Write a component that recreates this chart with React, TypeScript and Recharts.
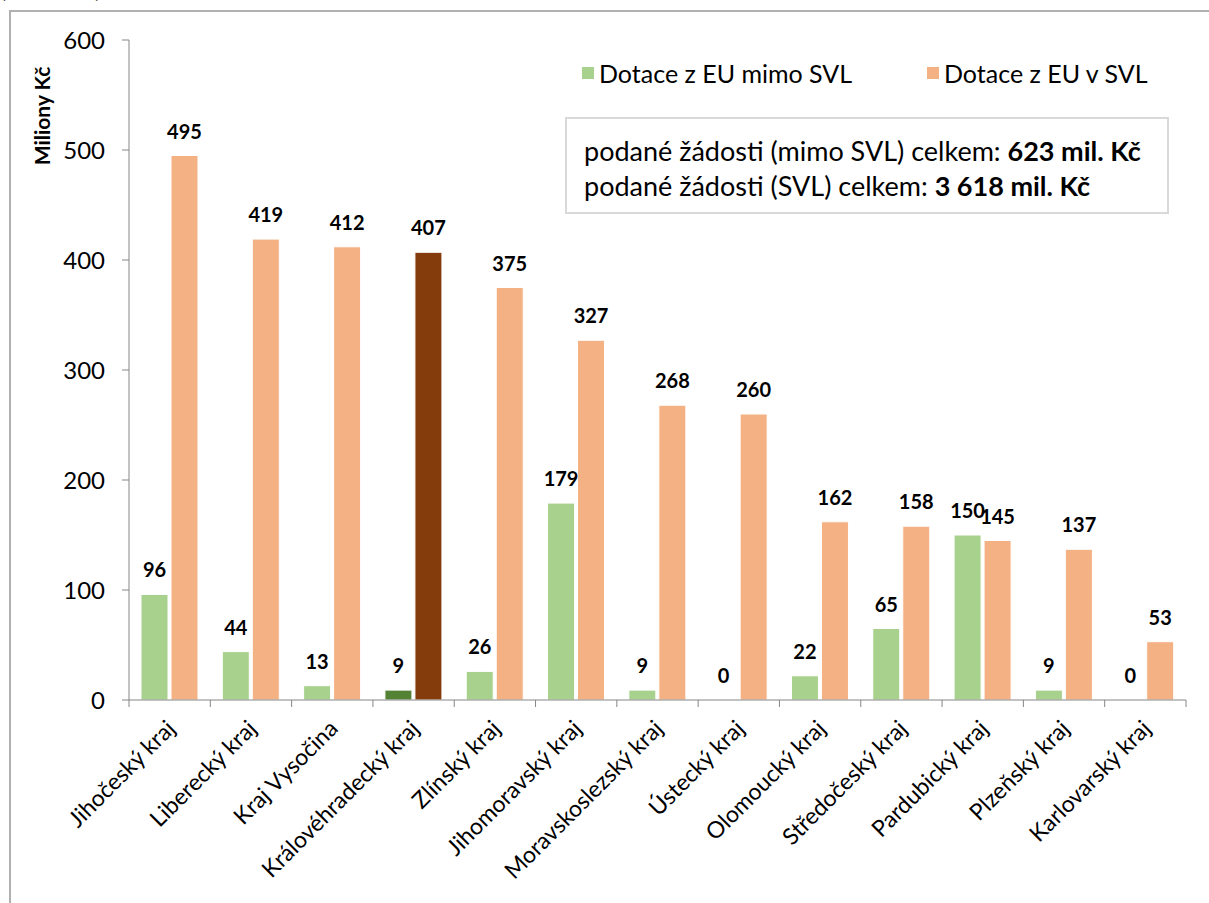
import { BarChart, Bar, Cell, XAxis, YAxis, LabelList } from 'recharts';

const categories = [
  'Jihočeský kraj',
  'Liberecký kraj',
  'Kraj Vysočina',
  'Královéhradecký kraj',
  'Zlínský kraj',
  'Jihomoravský kraj',
  'Moravskoslezský kraj',
  'Ústecký kraj',
  'Olomoucký kraj',
  'Středočeský kraj',
  'Pardubický kraj',
  'Plzeňský kraj',
  'Karlovarský kraj',
];

const mimoSvl = [96, 44, 13, 9, 26, 179, 9, 0, 22, 65, 150, 9, 0];
const vSvl = [495, 419, 412, 407, 375, 327, 268, 260, 162, 158, 145, 137, 53];

const yTicks = [0, 100, 200, 300, 400, 500, 600];

const highlighted = 'Královéhradecký kraj';

const series = [
  { key: 'mimo', name: 'Dotace z EU mimo SVL', color: '#a9d18e', dark: '#548235' },
  { key: 'svl', name: 'Dotace z EU v SVL', color: '#f4b183', dark: '#843c0c' },
];

const data = categories.map((kraj, i) => ({ kraj, mimo: mimoSvl[i], svl: vSvl[i] }));

const FONT = 'Lato, "Open Sans", sans-serif';
const AXIS = '#868686';

const W = 1209;
const H = 903;
const margin = { top: 40, right: 23, left: 69, bottom: 0 };
const yAxisWidth = 60;
const xAxisHeight = 203;
const band = (W - margin.left - yAxisWidth - margin.right) / categories.length;

function CategoryTick(props: any) {
  const { x, y, payload, index } = props;
  const ax = x + 7;
  const ay = y + 22;
  return (
    <g>
      {index === 0 && <line x1={x - band / 2} x2={x - band / 2} y1={700} y2={707} stroke={AXIS} />}
      <line x1={x + band / 2} x2={x + band / 2} y1={700} y2={707} stroke={AXIS} />
      <text
        x={ax}
        y={ay}
        transform={`rotate(-45, ${ax}, ${ay})`}
        textAnchor="end"
        fontSize={23}
        fill="#000"
        fontFamily={FONT}
      >
        {payload.value}
      </text>
    </g>
  );
}

export default function App() {
  return (
    <div style={{ position: 'absolute', left: 0, top: 0, width: W, height: H, background: '#fff', overflow: 'hidden', fontFamily: FONT }}>
      {/* title, cut off at the top as in the source */}
      <div style={{ position: 'absolute', left: 0, top: -27, fontSize: 24, lineHeight: '30px', fontWeight: 700, color: '#000' }}>
        (v mil. Kč)
      </div>
      {/* outer frame */}
      <div style={{ position: 'absolute', left: 9, top: 10, width: W, height: H, borderLeft: '2px solid #b0b0b0', borderTop: '2px solid #b0b0b0' }} />

      <div style={{ position: 'absolute', left: 0, top: 0 }}>
        <BarChart width={W} height={H} data={data} margin={margin} barCategoryGap={12} barGap={3}>
          <XAxis
            dataKey="kraj"
            height={xAxisHeight}
            interval={0}
            tickLine={false}
            stroke={AXIS}
            tick={<CategoryTick />}
          />
          <YAxis
            width={yAxisWidth}
            domain={[0, 600]}
            ticks={yTicks}
            tickSize={7}
            tickMargin={17}
            stroke={AXIS}
            tick={{ fill: '#000', fontSize: 24, fontFamily: FONT }}
            label={{
              value: 'Miliony Kč',
              content: () => (
                <text
                  x={50}
                  y={116}
                  transform="rotate(-90, 50, 116)"
                  textAnchor="middle"
                  fontSize={21}
                  fontWeight={700}
                  fontFamily={FONT}
                  fill="#000"
                >
                  Miliony Kč
                </text>
              ),
            }}
          />
          {series.map((s) => (
            <Bar
              key={s.key}
              dataKey={s.key}
              name={s.name}
              fill={s.color}
              stroke="#fff"
              strokeWidth={1}
              minPointSize={(v: number) => (v === 0 ? 0.01 : 0)}
              isAnimationActive={false}
            >
              {data.map((d) => (
                <Cell key={d.kraj} fill={d.kraj === highlighted ? s.dark : s.color} />
              ))}
              <LabelList
                dataKey={s.key}
                position="top"
                offset={17}
                fill="#000"
                fontSize={20}
                fontWeight={700}
                fontFamily={FONT}
              />
            </Bar>
          ))}
        </BarChart>
      </div>

      {/* legend */}
      {series.map((s, i) => (
        <div key={s.key} style={{ position: 'absolute', left: 582 + i * 345, top: 58, height: 30, display: 'flex', alignItems: 'center', fontSize: 25, color: '#000', whiteSpace: 'nowrap' }}>
          <span style={{ display: 'inline-block', width: 12, height: 12, background: s.color, marginRight: 5 }} />
          {s.name}
        </div>
      ))}

      {/* totals box */}
      <div
        style={{
          position: 'absolute',
          left: 565,
          top: 117,
          width: 604,
          height: 97,
          border: '2px solid #d9d9d9',
          boxSizing: 'border-box',
          padding: '14px 0 0 17px',
          fontSize: 27,
          lineHeight: '35px',
          color: '#000',
          whiteSpace: 'nowrap',
        }}
      >
        <div>podané žádosti (mimo SVL) celkem: <b>623 mil. Kč</b></div>
        <div>podané žádosti (SVL) celkem: <b>3 618 mil. Kč</b></div>
      </div>
    </div>
  );
}
